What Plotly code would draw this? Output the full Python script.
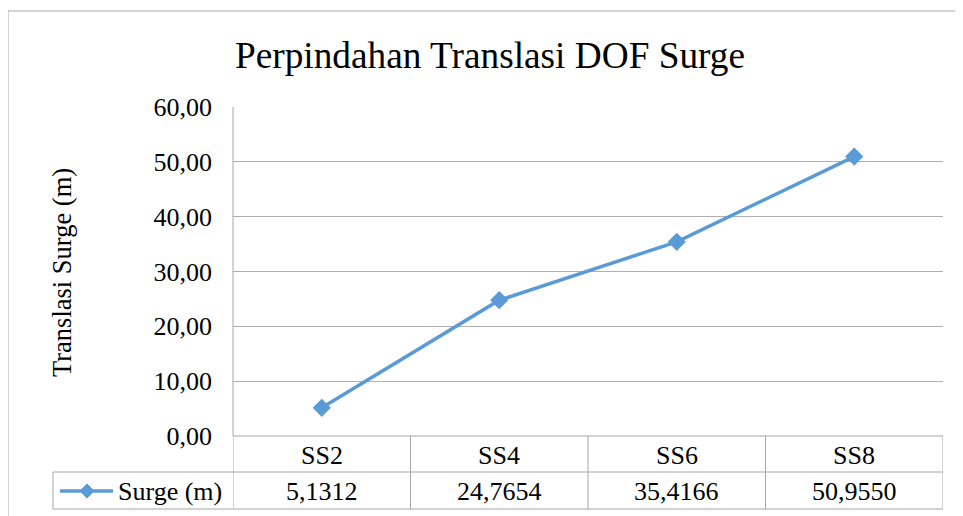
import plotly.graph_objects as go

categories = ["SS2", "SS4", "SS6", "SS8"]
surge_values = [5.1312, 24.7654, 35.4166, 50.9550]
series_name = "Surge (m)"
y_ticks = [0, 10, 20, 30, 40, 50, 60]
title_text = "Perpindahan Translasi DOF Surge"
y_title = "Translasi Surge (m)"

OFF = 8  # page body margin in the browser
W, H = 963, 516
# plot area in target page pixels: x 233..943, y 107..436
L = 233 - OFF
T = 107 - OFF
PW = 943 - 233
PH = 436 - 107
R = W - L - PW
B = H - T - PH
FONT = "Liberation Serif, Times New Roman, serif"
LINE_COLOR = "#5B9BD5"
GRID = "#B0B0B0"
TABLE = "#A6A6A6"


def py(p):
    return (436 - p) / PH


def px(p):
    return (p - 233) / PW


fig = go.Figure()
fig.add_trace(go.Scatter(
    x=categories, y=surge_values, mode="lines+markers", name=series_name,
    line=dict(color=LINE_COLOR, width=3.5),
    marker=dict(symbol="diamond", size=14, color=LINE_COLOR),
    showlegend=False, cliponaxis=False,
))

shapes = []
row1_bot = py(472)
row2_bot = py(509)
n = len(categories)
for i in range(n + 1):
    shapes.append(dict(type="line", xref="x", yref="paper", x0=i - 0.5, x1=i - 0.5,
                       y0=0, y1=row2_bot, line=dict(color=TABLE, width=1)))
shapes.append(dict(type="line", xref="x", yref="paper", x0=-0.5, x1=n - 0.5,
                   y0=0, y1=0, line=dict(color=TABLE, width=1)))
shapes.append(dict(type="line", xref="paper", yref="paper", x0=px(53), x1=1,
                   y0=row1_bot, y1=row1_bot, line=dict(color=TABLE, width=1)))
shapes.append(dict(type="line", xref="paper", yref="paper", x0=px(53), x1=1,
                   y0=row2_bot, y1=row2_bot, line=dict(color=TABLE, width=1)))
shapes.append(dict(type="line", xref="paper", yref="paper", x0=px(53), x1=px(53),
                   y0=row1_bot, y1=row2_bot, line=dict(color=TABLE, width=1)))
shapes.append(dict(type="line", xref="paper", yref="paper", x0=0, x1=0,
                   y0=0, y1=1, line=dict(color=TABLE, width=1)))
ly = py(491)
shapes.append(dict(type="line", xref="paper", yref="paper", x0=px(60), x1=px(113),
                   y0=ly, y1=ly, line=dict(color=LINE_COLOR, width=3.5)))
shapes.append(dict(type="path", xref="paper", yref="paper", xsizemode="pixel",
                   ysizemode="pixel", xanchor=px(87), yanchor=ly,
                   path="M -7 0 L 0 7 L 7 0 L 0 -7 Z",
                   fillcolor=LINE_COLOR, line=dict(color=LINE_COLOR, width=1)))
shapes.append(dict(type="line", xref="paper", yref="paper", x0=px(8), x1=px(W + 20),
                   y0=py(11), y1=py(11), line=dict(color="#ABABAB", width=1)))
shapes.append(dict(type="line", xref="paper", yref="paper", x0=px(8), x1=px(8),
                   y0=py(11), y1=py(H + 20), line=dict(color="#ABABAB", width=1)))

annotations = []
for i, (c, v) in enumerate(zip(categories, surge_values)):
    annotations.append(dict(x=i, y=py(455), xref="x", yref="paper", text=c,
                            showarrow=False, font=dict(family=FONT, size=26, color="#000"),
                            xanchor="center", yanchor="middle"))
    annotations.append(dict(x=i, y=py(491), xref="x", yref="paper",
                            text=f"{v:.4f}".replace(".", ","),
                            showarrow=False, font=dict(family=FONT, size=26, color="#000"),
                            xanchor="center", yanchor="middle"))
annotations.append(dict(x=px(116), y=py(491), xref="paper", yref="paper", text=series_name,
                        showarrow=False, font=dict(family=FONT, size=26, color="#000"),
                        xanchor="left", yanchor="middle"))
annotations.append(dict(x=px(62), y=py(273), xref="paper", yref="paper", text=y_title,
                        textangle=-90, showarrow=False,
                        font=dict(family=FONT, size=26.5, color="#000"),
                        xanchor="center", yanchor="middle"))

fig.update_layout(
    width=W, height=H,
    margin=dict(l=L, r=R, t=T, b=B),
    paper_bgcolor="white", plot_bgcolor="white",
    separators=", ",
    title=dict(text=title_text, x=(490 - OFF) / W, xref="container", xanchor="center",
               y=1 - (55 - OFF) / H, yref="container", yanchor="middle",
               font=dict(family=FONT, size=37.3, color="#000")),
    xaxis=dict(type="category", range=[-0.5, n - 0.5], showticklabels=False,
               showgrid=False, zeroline=False, showline=False, ticks=""),
    yaxis=dict(range=[0, 60], tickvals=y_ticks, tickformat=".2f",
               showgrid=True, gridcolor=GRID, gridwidth=1, zeroline=False,
               showline=False, ticks="", ticklabelstandoff=20,
               tickfont=dict(family=FONT, size=26, color="#000")),
    shapes=shapes, annotations=annotations,
)

fig.write_html("out.html")
